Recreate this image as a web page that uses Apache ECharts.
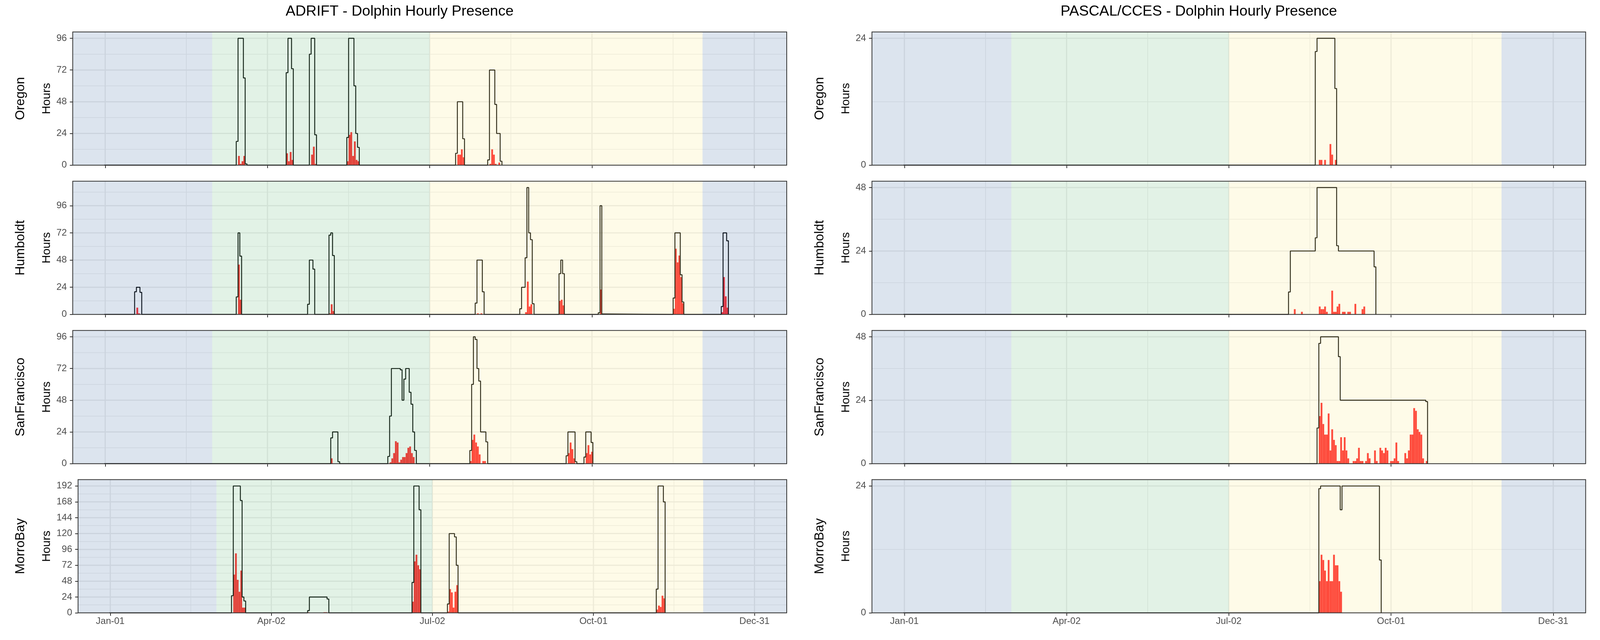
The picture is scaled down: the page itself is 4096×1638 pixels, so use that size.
<!DOCTYPE html>
<html>
<head>
<meta charset="utf-8">
<script src="https://cdn.jsdelivr.net/npm/echarts@6/dist/echarts.min.js"></script>
<style>html,body{margin:0;padding:0;background:#fff}#c{width:4096px;height:1638px}</style>
</head>
<body>
<div id="c"></div>
<script>
// ---------------- DATA ----------------
// x axis: day offset from Jan-01 (non-leap year)
const xTickDays = [0, 91, 182, 273, 364];
const xTickLabels = ['Jan-01', 'Apr-02', 'Jul-02', 'Oct-01', 'Dec-31'];
const xMinorDays = [45.5, 136.5, 227.5, 318.5];
// season boundaries (day offsets): spring start, summer/fall start, winter start
const seasonStarts = [60, 182, 335];

const sites = ['Oregon', 'Humboldt', 'SanFrancisco', 'MorroBay'];
const titles = ['ADRIFT - Dolphin Hourly Presence', 'PASCAL/CCES - Dolphin Hourly Presence'];

// Effort (black step line): [day, hours recorded from that day on]
// Detections (red bars): [day, hours with dolphin presence]
const adriftOregonEffort = [[0,0],[74,18],[75,96],[78,66],[79,1],[80,0],[102,70],[103,96],[105,73],[106,0],[115,84],[116,96],[118,23],[119,0],[136,21],[137,96],[140,60],[141,24],[142,13.5],[143,0],[197,9],[198,48],[201,20],[202,0],[215,4],[216,72],[219,46],[220,24],[222,3],[223,0]];
const adriftOregonHours = [[75,7],[76,1],[77,3],[78,7],[102,9],[103,3],[104,10],[105,4],[116,8],[117,14],[118,1],[136,3],[137,23],[138,25],[139,7],[140,18],[141,4],[142,3],[198,8],[199,8],[200,12],[201,6],[216,1],[217,12],[218,8],[219,1],[221,2]];

const adriftHumboldtEffort = [[0,0],[17,20],[18,24],[20,19.5],[21,0],[74,15.5],[75,72],[76,51.5],[77,0],[114,9],[115,48],[117,40],[118,0],[126,70],[127,72],[128,52],[129,0],[208,10],[209,48],[212,20],[213,0],[233,5],[234,24],[236,50],[237,112],[238,72],[239,66],[240,9.5],[241,0],[255,36],[256,48],[257,36],[258,0],[277,1.5],[278,96],[279,0.5],[280,0],[319,14.5],[320,72],[323,35],[324,11],[325,0],[346,7],[347,72],[349,65],[350,0]];
const adriftHumboldtHours = [[18,6],[19,1],[75,44],[76,13],[126,1],[127,9],[128,3],[209,1],[211,1],[236,2],[237,29],[238,7],[239,9],[255,12],[256,13],[257,8],[278,22],[319,5],[320,58],[321,46],[322,52],[323,33],[324,10],[346,2],[347,33],[348,16],[349,6]];

const adriftSanFranciscoEffort = [[0,0],[127,19.5],[128,24],[131,1.5],[132,0],[159,5.5],[160,36],[161,72],[166,71],[167,48],[168,64],[169,72],[171,54],[172,45],[173,24],[174,10],[175,0],[205,10],[206,60],[207,96],[208,94],[209,72],[210,62.5],[211,24],[214,16.5],[215,0],[259,6],[260,24],[264,1.5],[265,0],[269,5],[270,24],[273,16],[274,0]];
const adriftSanFranciscoHours = [[127,4],[160,1],[161,4],[162,8],[163,17],[164,16],[165,1],[166,3],[167,5],[168,5],[169,8],[170,12],[171,13],[172,8],[173,5],[205,2],[206,18],[207,22],[208,16],[209,13],[210,7],[212,2],[213,2],[260,8],[261,16],[262,11],[263,4],[270,8],[271,14],[272,7],[273,9]];

const adriftMorroBayEffort = [[0,0],[69,26],[70,192],[74,170],[75,24],[76,18],[77,0],[112,3.5],[113,24],[123,21],[124,0],[171,46],[172,192],[175,156],[176,0],[191,13.5],[192,120],[195,115],[196,72],[197,0],[309,36],[310,192],[313,168],[314,0]];
const adriftMorroBayHours = [[70,58],[71,90],[72,50],[73,32],[74,64],[75,8],[76,8],[112,1],[121,1],[122,1],[171,17],[172,78],[173,88],[174,72],[175,66],[191,2],[192,36],[193,31],[194,8],[195,32],[196,42],[309,5],[310,11],[311,9],[312,26],[313,22]];

const pascalOregonEffort = [[0,0],[231,21.5],[232,24],[242,14.5],[243,0]];
const pascalOregonHours = [[233,1],[234,1],[236,1],[239,4],[240,2],[242,1]];

const pascalHumboldtEffort = [[0,0],[216,8.5],[217,24],[231,29],[232,48],[243,26],[244,24],[264,18],[265,0]];
const pascalHumboldtHours = [[219,2],[223,1],[233,3],[234,2],[235,2],[236,3],[237,1],[240,9],[241,1],[242,1],[243,3],[244,4],[246,1],[247,1],[249,1],[250,1],[253,4],[257,2],[258,3]];

const pascalSanFranciscoEffort = [[0,0],[232,13.5],[233,45.5],[234,48],[244,40.5],[245,24],[293,23.5],[294,0]];
const pascalSanFranciscoHours = [[233,18],[234,23],[235,15],[236,11],[237,11],[238,19],[239,5],[240,13],[241,9],[242,7],[243,1],[244,1],[245,10],[246,5],[247,10],[248,5],[249,2],[252,1],[253,1],[254,2],[255,6],[256,1],[257,1],[259,1],[260,4],[261,2],[264,5],[265,1],[267,6],[268,5],[269,4],[270,6],[271,5],[273,1],[274,1],[275,2],[276,8],[277,1],[281,4],[282,2],[283,5],[284,11],[285,11],[286,21],[287,20],[288,13],[289,12],[290,11],[291,2],[293,1]];

const pascalMorroBayEffort = [[0,0],[233,23.5],[234,24],[245,19.5],[246,24],[267,10],[268,0]];
const pascalMorroBayHours = [[233,6],[234,11],[235,10],[236,8],[237,6],[238,10],[239,6],[240,6],[241,11],[242,9],[243,9],[244,6],[245,4]];

const yTicksAdrift = [[0,24,48,72,96],[0,24,48,72,96],[0,24,48,72,96],[0,24,48,72,96,120,144,168,192]];
const yTicksPascal = [[0,24],[0,24,48],[0,24,48],[0,24]];

// ---------------- LAYOUT / STYLE ----------------
const FONT = '"Liberation Sans", Arial, sans-serif';
const xMin = -18.2, xMax = 382.2;            // 5% expansion of 0..364
const colLeft = [186.2, 2232.2];
const colRightEdge = [2014.0, 4059.3];
const rowTop = [81.8, 463.8, 845.7, 1227.6];
const rowH = 341;
const titleX = [1023, 3069];
const seasonColors = ['rgba(80,120,170,0.2)', 'rgba(110,190,130,0.2)', 'rgba(250,235,140,0.2)'];
const barColor = 'rgb(255,35,40)';

const panelData = [
  [adriftOregonEffort, adriftOregonHours], [adriftHumboldtEffort, adriftHumboldtHours],
  [adriftSanFranciscoEffort, adriftSanFranciscoHours], [adriftMorroBayEffort, adriftMorroBayHours],
  [pascalOregonEffort, pascalOregonHours], [pascalHumboldtEffort, pascalHumboldtHours],
  [pascalSanFranciscoEffort, pascalSanFranciscoHours], [pascalMorroBayEffort, pascalMorroBayHours]
];

const seasonSegments = [
  [xMin, seasonStarts[0], 0],
  [seasonStarts[0], seasonStarts[1], 1],
  [seasonStarts[1], seasonStarts[2], 2],
  [seasonStarts[2], xMax, 0]
];

const grids = [], xAxes = [], yAxes = [], series = [], graphics = [];

panelData.forEach((pd, i) => {
  const col = i < 4 ? 0 : 1;
  const row = i % 4;
  const effort = pd[0], hours = pd[1];
  const yTicks = col === 0 ? yTicksAdrift[row] : yTicksPascal[row];
  const yTop = Math.max.apply(null, effort.map(d => d[1]));
  const yMax = yTop * 1.05;
  let left = colLeft[col];
  if (col === 0 && row === 3) left = 199.8; // wider tick labels (192)
  grids.push({
    left: left, top: rowTop[row], width: colRightEdge[col] - left, height: rowH,
    show: true, backgroundColor: 'transparent', borderColor: '#333333', borderWidth: 2, z: 20,
    containLabel: false
  });
  xAxes.push({
    type: 'value', gridIndex: i, min: xMin, max: xMax,
    axisLine: { show: false, onZero: false },
    splitLine: { show: false },
    axisTick: { show: true, customValues: xTickDays, length: 7.5, lineStyle: { color: '#333333', width: 2 } },
    axisLabel: {
      show: row === 3, customValues: xTickDays, margin: 10,
      color: '#4D4D4D', fontSize: 24, fontFamily: FONT,
      formatter: v => xTickLabels[xTickDays.indexOf(v)]
    }
  });
  yAxes.push({
    type: 'value', gridIndex: i, min: 0, max: yMax,
    axisLine: { show: false, onZero: false },
    splitLine: { show: false },
    axisTick: { show: true, customValues: yTicks, length: 7.5, lineStyle: { color: '#333333', width: 2 } },
    axisLabel: { show: true, customValues: yTicks, margin: 15, color: '#4D4D4D', fontSize: 24, fontFamily: FONT }
  });

  // grid lines (drawn beneath, tinted by season overlay)
  const gridData = [];
  xTickDays.forEach(d => gridData.push([0, d, 1]));
  xMinorDays.forEach(d => gridData.push([0, d, 0]));
  yTicks.forEach(t => {
    gridData.push([1, t, 1]);
    if (t + 12 < yMax) gridData.push([1, t + 12, 0]);
  });
  series.push({
    type: 'custom', xAxisIndex: i, yAxisIndex: i, z: 1, silent: true,
    data: gridData,
    renderItem: function (params, api) {
      const cs = params.coordSys;
      const o = api.value(0), v = api.value(1), major = api.value(2);
      let shape;
      if (o === 0) {
        const x = api.coord([v, 0])[0];
        shape = { x1: x, y1: cs.y, x2: x, y2: cs.y + cs.height };
      } else {
        const y = api.coord([0, v])[1];
        shape = { x1: cs.x, y1: y, x2: cs.x + cs.width, y2: y };
      }
      return { type: 'line', shape: shape, style: { stroke: '#EBEBEB', lineWidth: major ? 3 : 1.5 } };
    }
  });
  series.push({
    type: 'bar', xAxisIndex: i, yAxisIndex: i, z: 2, silent: true,
    data: hours, barWidth: '100%', itemStyle: { color: barColor }
  });
  series.push({
    type: 'line', xAxisIndex: i, yAxisIndex: i, z: 3, silent: true, step: 'end',
    data: effort.map(d => [d[0] - 0.5, d[1]]),
    symbol: 'none', showSymbol: false,
    lineStyle: { color: '#000000', width: 2.4 }
  });
  series.push({
    type: 'custom', xAxisIndex: i, yAxisIndex: i, z: 10, silent: true,
    data: seasonSegments,
    renderItem: function (params, api) {
      const cs = params.coordSys;
      const x1 = api.coord([api.value(0), 0])[0];
      const x2 = api.coord([api.value(1), 0])[0];
      return { type: 'rect', shape: { x: x1, y: cs.y, width: x2 - x1, height: cs.height },
               style: { fill: seasonColors[api.value(2)] } };
    }
  });

  // row labels
  const cy = rowTop[row] + rowH / 2;
  graphics.push({
    type: 'text', x: colLeft[col] - 133, y: cy, rotation: Math.PI / 2, silent: true,
    style: { text: sites[row], font: '33px ' + FONT, fill: '#000', textAlign: 'center', textVerticalAlign: 'middle', align: 'center', verticalAlign: 'middle' }
  });
  graphics.push({
    type: 'text', x: colLeft[col] - 66.8, y: cy, rotation: Math.PI / 2, silent: true,
    style: { text: 'Hours', font: '30px ' + FONT, fill: '#000', textAlign: 'center', textVerticalAlign: 'middle', align: 'center', verticalAlign: 'middle' }
  });
});

titles.forEach((t, c) => {
  graphics.push({
    type: 'text', x: titleX[c], y: 29.7, silent: true,
    style: { text: t, font: '37.5px ' + FONT, fill: '#000', textAlign: 'center', textVerticalAlign: 'middle', align: 'center', verticalAlign: 'middle' }
  });
});

const chart = echarts.init(document.getElementById('c'), null, { renderer: 'canvas', width: 4096, height: 1638 });
chart.setOption({
  animation: false,
  backgroundColor: '#ffffff',
  grid: grids,
  xAxis: xAxes,
  yAxis: yAxes,
  series: series,
  graphic: { elements: graphics }
});
</script>
</body>
</html>
